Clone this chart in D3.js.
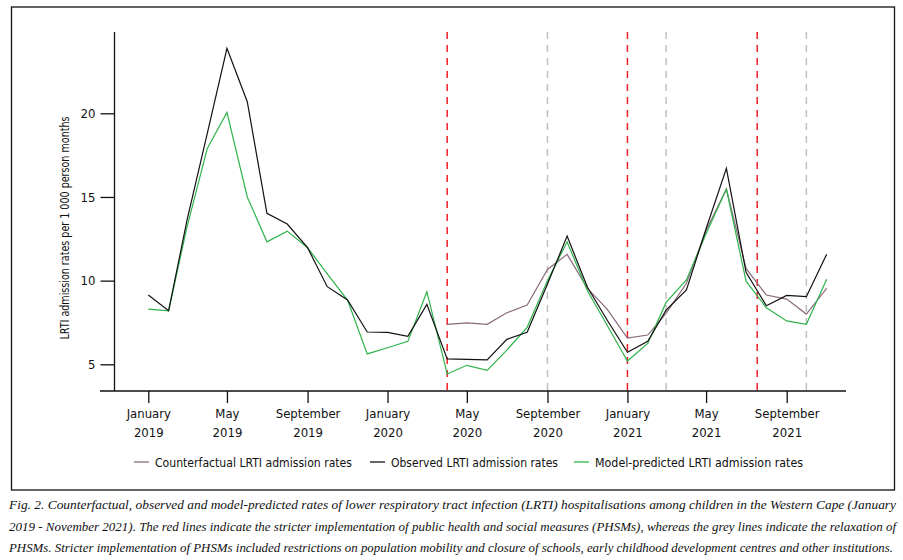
<!DOCTYPE html>
<html>
<head>
<meta charset="utf-8">
<script src="https://cdn.jsdelivr.net/npm/d3@7"></script>
<style>
  body { margin: 0; background: #fff; }
  svg { display: block; }
  .lbl { font-family: "Liberation Sans Narrow", "DejaVu Sans Condensed", "Roboto Condensed", "Noto Sans", sans-serif; fill: #111; }
  .cap { font-family: "Liberation Serif", "DejaVu Serif", serif; font-style: italic; fill: #111; }
</style>
</head>
<body>
<script>
// months Jan 2019 - Nov 2021
const months = [
  "2019-01","2019-02","2019-03","2019-04","2019-05","2019-06","2019-07","2019-08","2019-09","2019-10","2019-11","2019-12",
  "2020-01","2020-02","2020-03","2020-04","2020-05","2020-06","2020-07","2020-08","2020-09","2020-10","2020-11","2020-12",
  "2021-01","2021-02","2021-03","2021-04","2021-05","2021-06","2021-07","2021-08","2021-09","2021-10","2021-11"
];
const observed = [9.14, 8.2, 13.6, 18.8, 23.88, 20.69, 14.02, 13.38, 11.97, 9.64, 8.84, 6.93,
  6.91, 6.67, 8.58, 5.32, 5.30, 5.26, 6.49, 6.91, 9.8, 12.66, 9.6, 7.65,
  5.72, 6.37, 8.24, 9.44, 13.1, 16.71, 10.5, 8.5, 9.12, 9.04, 11.58];
const predicted = [8.30, 8.2, 13.2, 17.9, 20.05, 15.0, 12.32, 12.96, 11.97, 10.4, 8.84, 5.62,
  5.99, 6.37, 9.34, 4.42, 4.94, 4.64, 5.85, 7.21, 10.0, 12.32, 9.4, 7.33,
  5.2, 6.25, 8.70, 10.04, 12.8, 15.47, 9.97, 8.38, 7.59, 7.39, 10.08];
const counterfactual = [null, null, null, null, null, null, null, null, null, null, null, null,
  null, null, null, 7.39, 7.47, 7.39, 8.08, 8.54, 10.67, 11.57, 9.54, 8.3,
  6.57, 6.75, 8.05, 9.84, 13.0, 15.47, 10.73, 9.14, 8.9, 8.0, 9.54];

const stricter = ["2020-04-01", "2021-01-01", "2021-07-18"];
const relaxed = ["2020-09-01", "2021-03-01", "2021-10-01"];

const xTicks = ["2019-01","2019-05","2019-09","2020-01","2020-05","2020-09","2021-01","2021-05","2021-09"];
const yTicks = [5, 10, 15, 20];

const legendItems = [
  { name: "Counterfactual LRTI admission rates", color: "#8a6a7d" },
  { name: "Observed LRTI admission rates", color: "#111111" },
  { name: "Model-predicted LRTI admission rates", color: "#2eb34a" }
];

const caption = [
  "Fig. 2. Counterfactual, observed and model-predicted rates of lower respiratory tract infection (LRTI) hospitalisations among children in the Western Cape (January",
  "2019 - November 2021). The red lines indicate the stricter implementation of public health and social measures (PHSMs), whereas the grey lines indicate the relaxation of",
  "PHSMs. Stricter implementation of PHSMs included restrictions on population mobility and closure of schools, early childhood development centres and other institutions."
];

const W = 903, H = 560;
const pm = d3.timeParse("%Y-%m");
const pd = d3.timeParse("%Y-%m-%d");
const dates = months.map(pm);

const x = d3.scaleTime()
  .domain([pm("2019-01"), pm("2021-09")])
  .range([148.3, 786.7]);
const y = d3.scaleLinear()
  .domain([5, 20])
  .range([364.3, 113.3]);

const axisY0 = 391, axisX0 = 114.5, plotTop = 32;

const svg = d3.select("body").append("svg")
  .attr("width", W).attr("height", H);

// frame
svg.append("rect")
  .attr("x", 11.5).attr("y", 7)
  .attr("width", 883).attr("height", 483)
  .attr("fill", "none").attr("stroke", "#111").attr("stroke-width", 1.3);

// policy lines
svg.selectAll(".strict").data(stricter).enter().append("line")
  .attr("x1", d => x(pd(d))).attr("x2", d => x(pd(d)))
  .attr("y1", plotTop).attr("y2", axisY0)
  .attr("stroke", "#f01e28").attr("stroke-width", 1.5)
  .attr("stroke-dasharray", "7,6");
svg.selectAll(".relax").data(relaxed).enter().append("line")
  .attr("x1", d => x(pd(d))).attr("x2", d => x(pd(d)))
  .attr("y1", plotTop).attr("y2", axisY0)
  .attr("stroke", "#c0c0c0").attr("stroke-width", 1.5)
  .attr("stroke-dasharray", "7,6");

// y axis
const yAxis = svg.append("g")
  .attr("transform", `translate(${axisX0},0)`)
  .call(d3.axisLeft(y).tickValues(yTicks).tickSize(14).tickPadding(5).tickSizeOuter(0));
yAxis.select(".domain").remove();
yAxis.append("line")
  .attr("x1", 0).attr("x2", 0).attr("y1", plotTop).attr("y2", axisY0)
  .attr("stroke", "#111").attr("stroke-width", 1.3);
yAxis.selectAll(".tick line").attr("stroke", "#111").attr("stroke-width", 1.3);
yAxis.selectAll(".tick text")
  .attr("class", "lbl").style("font-size", "13px");

// x axis
const xAxis = svg.append("g")
  .attr("transform", `translate(0,${axisY0})`)
  .call(d3.axisBottom(x).tickValues(xTicks.map(pm)).tickSize(12).tickFormat(() => ""));
xAxis.select(".domain").remove();
xAxis.append("line")
  .attr("x1", 100).attr("x2", 846).attr("y1", 0).attr("y2", 0)
  .attr("stroke", "#111").attr("stroke-width", 1.3);
xAxis.selectAll(".tick line").attr("stroke", "#111").attr("stroke-width", 1.3);
xAxis.selectAll(".tick").each(function (d) {
  const g = d3.select(this);
  g.append("text").attr("class", "lbl").attr("text-anchor", "middle")
    .attr("y", 27).style("font-size", "13px").text(d3.timeFormat("%B")(d));
  g.append("text").attr("class", "lbl").attr("text-anchor", "middle")
    .attr("y", 46).style("font-size", "13px").text(d3.timeFormat("%Y")(d));
});

// y label
svg.append("text").attr("class", "lbl")
  .attr("transform", "translate(69,228) rotate(-90)")
  .attr("text-anchor", "middle")
  .style("font-size", "12.5px")
  .attr("textLength", 223).attr("lengthAdjust", "spacingAndGlyphs")
  .text("LRTI admission rates per 1 000 person months");

// lines
const series = [
  { vals: counterfactual, color: legendItems[0].color },
  { vals: predicted, color: legendItems[2].color },
  { vals: observed, color: legendItems[1].color }
];
const line = d3.line()
  .defined(d => d[1] != null)
  .x(d => x(d[0])).y(d => y(d[1]));
series.forEach(s => {
  svg.append("path")
    .datum(dates.map((d, i) => [d, s.vals[i]]))
    .attr("fill", "none")
    .attr("stroke", s.color)
    .attr("stroke-width", 1.2)
    .attr("stroke-linejoin", "miter")
    .attr("d", line);
});

// legend
const legX = [134, 370, 574];
const legW = [197, 167, 208];
legendItems.forEach((it, i) => {
  svg.append("line")
    .attr("x1", legX[i]).attr("x2", legX[i] + 15)
    .attr("y1", 462).attr("y2", 462)
    .attr("stroke", it.color).attr("stroke-width", 1.3);
  svg.append("text").attr("class", "lbl")
    .attr("x", legX[i] + 21).attr("y", 466.5)
    .style("font-size", "13px")
    .attr("textLength", legW[i]).attr("lengthAdjust", "spacingAndGlyphs")
    .text(it.name);
});

// caption
const capW = [887, 887, 884];
caption.forEach((t, i) => {
  svg.append("text").attr("class", "cap")
    .attr("x", 9).attr("y", 509 + i * 21.5)
    .style("font-size", "13px")
    .attr("textLength", capW[i]).attr("lengthAdjust", "spacingAndGlyphs")
    .text(t);
});
</script>
</body>
</html>
